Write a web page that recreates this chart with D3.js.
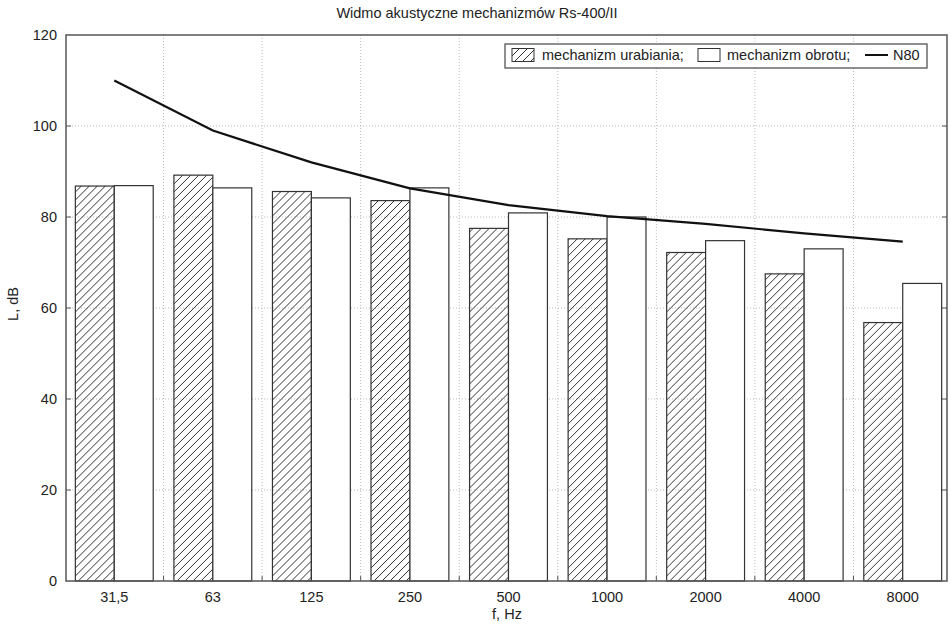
<!DOCTYPE html>
<html>
<head>
<meta charset="utf-8">
<script src="https://cdn.jsdelivr.net/npm/d3@7"></script>
<style>
    body { margin: 0; background: #fff; }
    svg text { font-family: "Liberation Sans", Arial, sans-serif; fill: #222; }
</style>
</head>
<body>
<svg id="chart" width="951" height="631"></svg>
<script>
// dane
const categories = ["31,5", "63", "125", "250", "500", "1000", "2000", "4000", "8000"];
const urabiania = [86.8, 89.2, 85.6, 83.6, 77.5, 75.2, 72.2, 67.5, 56.8];
const obrotu = [86.9, 86.4, 84.2, 86.4, 80.9, 80.0, 74.8, 73.0, 65.4];
const n80 = [110.0, 99.0, 92.0, 86.3, 82.6, 80.2, 78.5, 76.4, 74.6];
const yTicks = [0, 20, 40, 60, 80, 100, 120];

const svg = d3.select("#chart");
const plotLeft = 66, plotRight = 947, plotTop = 35, plotBottom = 581;

let x = d3.scaleBand().domain(categories).range([65, 952]).paddingInner(0.21).paddingOuter(0.105);
let x1 = d3.scaleBand().domain(["u", "o"]).range([0, x.bandwidth()]);
let y = d3.scaleLinear().domain([0, 120]).range([plotBottom, plotTop]);

// hatch
svg.append("defs").append("pattern")
    .attr("id", "hatch")
    .attr("patternUnits", "userSpaceOnUse")
    .attr("width", 8).attr("height", 8)
    .append("path")
    .attr("d", "M0,8 L8,0 M-2,2 L2,-2 M6,10 L10,6")
    .attr("stroke", "#333")
    .attr("stroke-width", 1);

// gridlines
let grid = svg.append("g").attr("class", "grid");
grid.selectAll(".hgrid").data(yTicks.slice(1, -1)).enter().append("line")
    .attr("x1", plotLeft).attr("x2", plotRight)
    .attr("y1", d => y(d)).attr("y2", d => y(d))
    .attr("stroke", "#bbb").attr("stroke-dasharray", "1,2");
let bounds = categories.slice(1).map(c => x(c) - x.step() * x.paddingInner() / 2);
grid.selectAll(".vgrid").data(bounds).enter().append("line")
    .attr("x1", d => d).attr("x2", d => d)
    .attr("y1", plotTop).attr("y2", plotBottom)
    .attr("stroke", "#bbb").attr("stroke-dasharray", "1,2");

// bars
let groups = svg.append("g").selectAll("g").data(categories).enter().append("g")
    .attr("transform", d => `translate(${x(d)},0)`);
groups.append("rect")
    .attr("x", x1("u")).attr("width", x1.bandwidth())
    .attr("y", (d, i) => y(urabiania[i])).attr("height", (d, i) => plotBottom - y(urabiania[i]))
    .attr("fill", "url(#hatch)").attr("stroke", "#333").attr("stroke-width", 1.2);
groups.append("rect")
    .attr("x", x1("o")).attr("width", x1.bandwidth())
    .attr("y", (d, i) => y(obrotu[i])).attr("height", (d, i) => plotBottom - y(obrotu[i]))
    .attr("fill", "#fff").attr("stroke", "#333").attr("stroke-width", 1.2);

// N80 line
let line = d3.line()
    .x((d, i) => x(categories[i]) + x.bandwidth() / 2)
    .y(d => y(d));
svg.append("path").datum(n80)
    .attr("d", line)
    .attr("fill", "none").attr("stroke", "#111").attr("stroke-width", 2.2);

// frame + ticks
svg.append("rect")
    .attr("x", plotLeft).attr("y", plotTop).attr("width", plotRight - plotLeft).attr("height", plotBottom - plotTop)
    .attr("fill", "none").attr("stroke", "#555").attr("stroke-width", 1.5);
svg.append("g").selectAll("line").data(yTicks.slice(1, -1)).enter().append("line")
    .attr("x1", plotLeft).attr("x2", plotLeft + 5)
    .attr("y1", d => y(d)).attr("y2", d => y(d)).attr("stroke", "#555");
svg.append("g").selectAll("line").data(yTicks.slice(1, -1)).enter().append("line")
    .attr("x1", plotRight - 5).attr("x2", plotRight)
    .attr("y1", d => y(d)).attr("y2", d => y(d)).attr("stroke", "#555");
svg.append("g").selectAll("line").data(bounds).enter().append("line")
    .attr("x1", d => d).attr("x2", d => d)
    .attr("y1", plotBottom - 5).attr("y2", plotBottom).attr("stroke", "#555");

// tick labels
svg.append("g").selectAll("text").data(yTicks).enter().append("text")
    .attr("x", 57).attr("y", d => y(d)).attr("dy", "0.35em")
    .attr("text-anchor", "end").style("font-size", "14.5px")
    .text(d => d);
svg.append("g").selectAll("text").data(categories).enter().append("text")
    .attr("x", d => x(d) + x.bandwidth() / 2).attr("y", 602)
    .attr("text-anchor", "middle").style("font-size", "14.5px")
    .text(d => d);

// titles
svg.append("text").attr("x", 477).attr("y", 18).attr("text-anchor", "middle")
    .style("font-size", "14.5px").text("Widmo akustyczne mechanizmów Rs-400/II");
svg.append("text").attr("x", 507).attr("y", 619).attr("text-anchor", "middle")
    .style("font-size", "14.5px").text("f, Hz");
svg.append("text").attr("transform", "translate(18,304) rotate(-90)").attr("text-anchor", "middle")
    .style("font-size", "14.5px").text("L, dB");

// legend
let lg = svg.append("g");
lg.append("rect").attr("x", 505).attr("y", 44).attr("width", 422).attr("height", 24)
    .attr("fill", "#fff").attr("stroke", "#444").attr("stroke-width", 1.2);
lg.append("rect").attr("x", 512).attr("y", 48.5).attr("width", 22).attr("height", 13)
    .attr("fill", "url(#hatch)").attr("stroke", "#333");
lg.append("text").attr("x", 542).attr("y", 60).style("font-size", "14.5px").text("mechanizm urabiania;");
lg.append("rect").attr("x", 698).attr("y", 48.5).attr("width", 22).attr("height", 13)
    .attr("fill", "#fff").attr("stroke", "#333");
lg.append("text").attr("x", 727).attr("y", 60).style("font-size", "14.5px").text("mechanizm obrotu;");
lg.append("line").attr("x1", 865).attr("x2", 888).attr("y1", 55).attr("y2", 55)
    .attr("stroke", "#111").attr("stroke-width", 2);
lg.append("text").attr("x", 893).attr("y", 60).style("font-size", "14.5px").text("N80");
</script>
</body>
</html>
